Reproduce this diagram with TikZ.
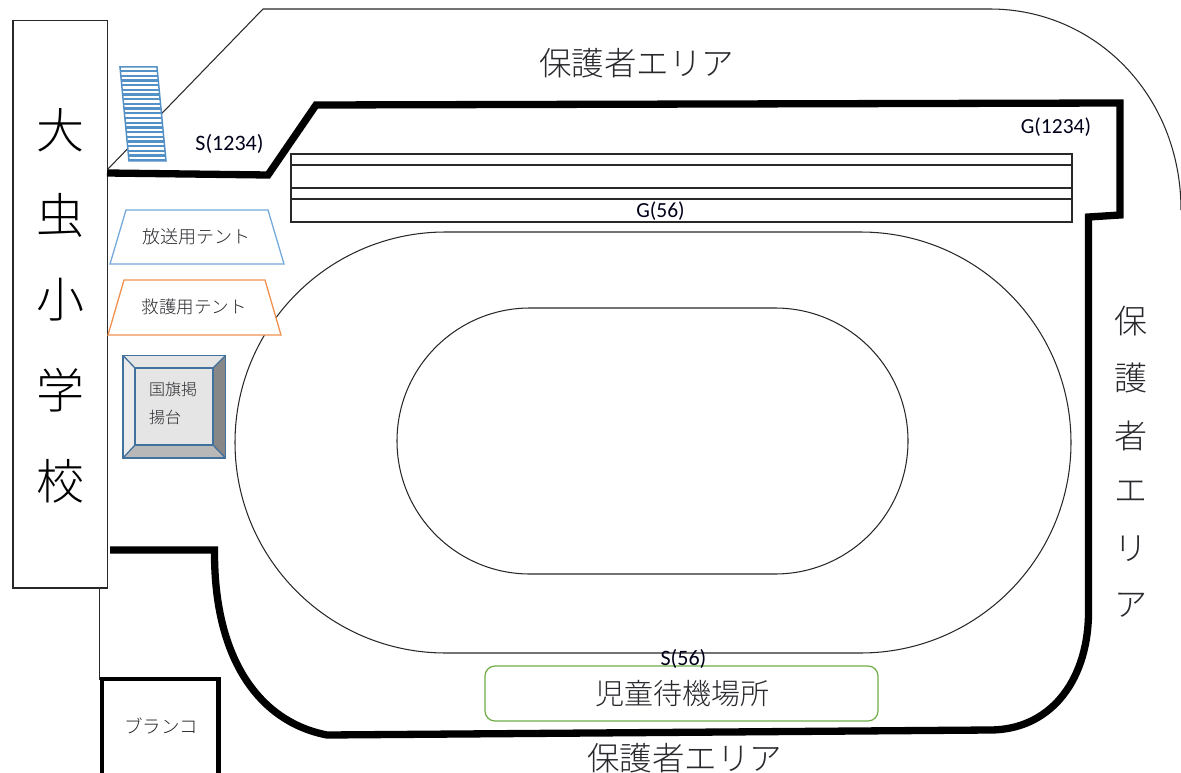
\documentclass[tikz,border=0pt]{standalone}
\usepackage{fontspec}
\setmainfont{Carlito}
\newfontfamily\jpl{Noto Sans CJK JP Light}
\definecolor{tline}{RGB}{40,40,40}
\definecolor{bluel}{RGB}{91,155,213}
\definecolor{oran}{RGB}{237,125,49}
\definecolor{gree}{RGB}{112,173,71}
\definecolor{steel}{RGB}{65,113,156}
\definecolor{txt}{RGB}{40,40,45}
\tikzset{
  thin line/.style={draw=tline,line width=1.05pt},
  wall/.style={draw=black,line width=7.3pt,line join=miter},
  jp/.style={inner sep=0pt,text=txt},
  latin/.style={inner sep=0pt,text=black!90!blue},
}
\newcommand{\fs}[1]{\fontsize{#1}{#1}\selectfont}
\begin{document}
\begin{tikzpicture}[x=1pt,y=-1pt]
\useasboundingbox (0,0) rectangle (1181,773);
% outer guardian boundary
\draw[thin line] (108,169) -- (263,9) -- (990,9) .. controls (1095,9) and (1181,95) .. (1181,210);
% track
\draw[thin line] (445.5,232) -- (860.5,232) arc[start angle=-90,end angle=90,radius=210.5,y=-1pt] -- (445.5,653) arc[start angle=90,end angle=270,radius=210.5,y=-1pt] -- cycle;
\draw[thin line] (530,308) -- (775,308) arc[start angle=-90,end angle=90,radius=133,y=-1pt] -- (530,574) arc[start angle=90,end angle=270,radius=133,y=-1pt] -- cycle;
% stand
\draw[thin line] (291,154) rectangle (1072,222);
\draw[thin line] (291,165) -- (1072,165) (291,199) -- (1072,199);
\draw[tline,line width=1.5pt] (291,188) -- (1072,188);
% school
\node[draw=tline,line width=1.3pt,fill=white,minimum width=94.5pt,minimum height=567.5pt,inner sep=0pt] (school) at (60.2,304.2) {};
\foreach \c/\y in {大/130,虫/215,小/300,学/390,校/481}
  \node[jp,text=black,font=\jpl\fs{48}] at (60,\y) {\c};
% striped stand
\fill[white] (120,67) -- (157,67) -- (166,161) -- (129,161) -- cycle;
\begin{scope}
\clip (120,67) -- (157,67) -- (166,161) -- (129,161) -- cycle;
\foreach \y in {71,75.7,...,161} \draw[bluel!75!steel,line width=2.3pt] (110,\y) -- (175,\y);
\end{scope}
\draw[bluel!75!steel,line width=1.5pt] (120,67) -- (157,67) -- (166,161) -- (129,161) -- cycle;
% walls
\draw[wall] (107,173) -- (268,175) -- (316,105) -- (1120,103) -- (1120,215) -- (1088.5,217) -- (1088.5,615) .. controls (1087,684) and (1048,730) .. (990,730) -- (327,735) .. controls (260,722) and (214.5,660) .. (214.5,553) -- (214.5,550) -- (110,550);
% tents
\draw[bluel!85!white,line width=1.3pt,fill=white] (126,210) -- (268,210) -- (284,264) -- (110,264) -- cycle;
\node[jp,font=\jpl\fs{18}] (t1) at (196.5,237) {放送用テント};
\draw[oran!85!white,line width=1.3pt,fill=white] (124,280) -- (265,280) -- (281,335) -- (108,335) -- cycle;
\node[jp,font=\jpl\fs{17.5}] (t2) at (194,307) {救護用テント};
% flag platform
\draw[steel,line width=1.3pt,fill=black!10] (123,355.5) rectangle (225.5,458);
\fill[black!8] (123,355.5) -- (135,368) -- (135,445) -- (123,458) -- cycle;
\fill[black!47] (225.5,355.5) -- (213,368) -- (213,445) -- (225.5,458) -- cycle;
\fill[black!28] (123,458) -- (135,445) -- (213,445) -- (225.5,458) -- cycle;
\draw[steel,line width=1.3pt] (123,355.5) rectangle (225.5,458) (135,368) rectangle (213,445);
\draw[steel,line width=1.3pt] (123,355.5) -- (135,368) (225.5,355.5) -- (213,368) (123,458) -- (135,445) (225.5,458) -- (213,445);
\node[jp,font=\jpl\fs{16},anchor=west] at (149,389) {国旗掲};
\node[jp,font=\jpl\fs{16},anchor=west] at (149,417) {揚台};
% left line & swing
\draw[tline,line width=1.2pt] (99.5,588) -- (99.5,680);
\draw[black,line width=4.2pt] (102,773) -- (102,679) -- (218.5,679) -- (218.5,773);
\node[jp,font=\jpl\fs{18.5}] (sw) at (161,726) {ブランコ};
% waiting area
\node[draw=gree,line width=1.2pt,rounded corners=10pt,minimum width=393pt,minimum height=55pt,inner sep=0pt,fill=white] (wait) at (681.5,693.5) {};
\node[jp,font=\jpl\fs{29}] at (682,694) {児童待機場所};
% guardian areas
\node[jp,font=\jpl\fs{32.5}] at (636.5,63) {保護者エリア};
\node[jp,font=\jpl\fs{32.5}] at (684.5,758) {保護者エリア};
\foreach \c/\y in {保/321,護/378,者/436,エ/492,リ/549,ア/605}
  \node[jp,font=\jpl\fs{33}] at (1131,\y) {\c};
% labels
\node[latin,font=\fs{22}] at (229.5,144) {S(1234)};
\node[latin,font=\fs{21.5}] at (1056,127) {G(1234)};
\node[latin,font=\fs{21.5}] at (660.5,211) {G(56)};
\node[latin,font=\fs{22}] at (683.5,659) {S(56)};
\end{tikzpicture}
\end{document}
